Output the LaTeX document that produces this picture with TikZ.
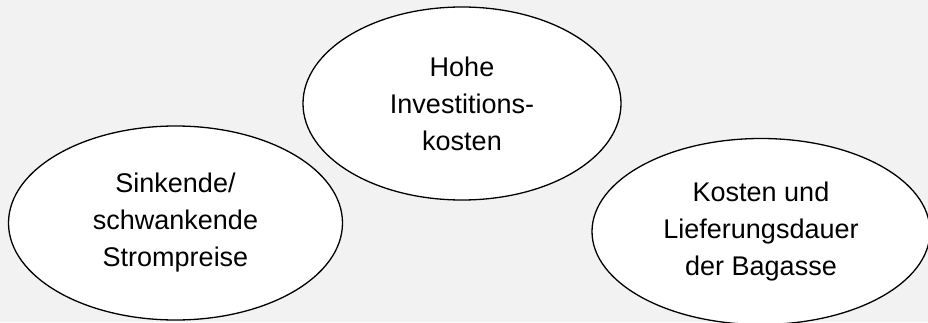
\documentclass[tikz,border=0pt]{standalone}
\usepackage{fontspec}
\setmainfont{Liberation Sans}
\usetikzlibrary{shapes.geometric}
\definecolor{bg}{HTML}{F2F2F2}
\begin{document}
\begin{tikzpicture}[x=1pt,y=1pt,
  bubble/.style={ellipse,draw=black,line width=1.3pt,fill=white,inner sep=0pt,outer sep=0pt,
    align=center,font=\fontsize{27}{37}\selectfont}]
\useasboundingbox (0,0) rectangle (928,322);
\clip (0,0) rectangle (928,322);
\fill[bg] (0,0) rectangle (928,322);
\node[bubble,minimum width=318pt,minimum height=193pt] (top) at (462,218.5) {Hohe\\Investitions-\\kosten};
\node[bubble,minimum width=334pt,minimum height=194pt] (left) at (175.5,99) {Sinkende/\\schwankende\\Strompreise};
\node[bubble,minimum width=338pt,minimum height=186pt] (right) at (761,90.5) {Kosten und\\Lieferungsdauer\\der Bagasse};
\end{tikzpicture}
\end{document}
